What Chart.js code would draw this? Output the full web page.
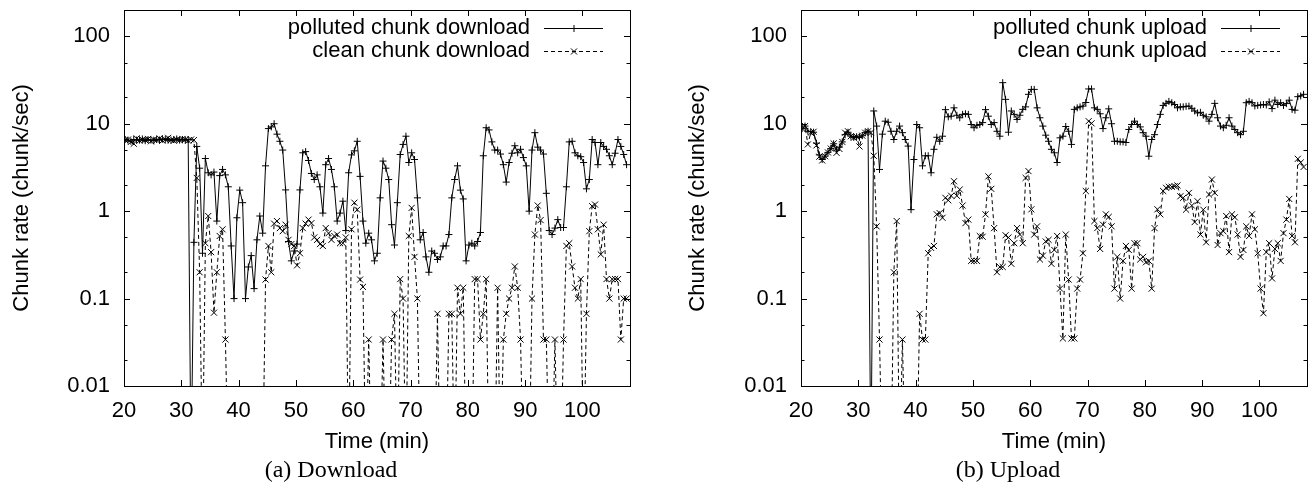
<!DOCTYPE html>
<html>
<head>
<meta charset="utf-8">
<script src="https://cdn.jsdelivr.net/npm/chart.js@4.4.1/dist/chart.umd.min.js"></script>
<style>
  html, body { margin: 0; padding: 0; background: #fff; }
  #wrap { position: relative; width: 1316px; height: 491px; overflow: hidden; }
  .panel { position: absolute; top: 0; width: 658px; height: 491px; }
  .cap { position: absolute; top: 457px; width: 300px; margin-left: -150px; text-align: center;
         font-family: "Liberation Serif", serif; font-size: 24px; line-height: 24px; color: #000; }
</style>
</head>
<body>
<div id="wrap">
  <div class="panel" style="left:0"><canvas id="dlChart" width="658" height="491"></canvas></div>
  <div class="panel" style="left:658px"><canvas id="ulChart" width="658" height="491"></canvas></div>
  <div class="cap" id="capA" style="left:331px"></div>
  <div class="cap" id="capB" style="left:1008px"></div>
</div>
<script>
// samples every 30 s, first one at 20.2 min
const T0 = 20.2, STEP = 0.5;

// chunk rates (chunk/sec), 0 = nothing received in that interval
const polDown = [
  6.6,6.5,6.3,6.6,6.5,6.5,6.7,6.4,6.6,6.5,
  6.4,6.6,6.5,6.7,6.6,6.5,6.5,6.6,6.7,6.5,
  6.6,6.5,6.6,0,0.44,5.5,3.1,0.33,4.0,2.75,
  2.6,2.8,0.77,2.55,3.0,2.6,1.9,0.4,0.1,0.84,
  1.74,1.25,0.1,0.23,0.31,0.13,0.47,0.88,0.56,3.3,
  8.8,9.2,10,7.6,6.3,5.0,1.75,0.45,0.27,0.35,
  0.42,1.75,4.65,4.8,3.8,2.7,2.3,2.6,1.9,0.95,
  3.4,4.0,3.0,1.9,0.77,0.95,1.3,0.6,2.75,4.4,
  4.9,6.3,2.5,0.77,0.43,0.56,0.47,0.27,0.33,1.42,
  3.74,3.1,2.3,0.7,0.41,1.25,4.45,5.8,7.2,3.6,
  4.65,3.9,1.42,0.47,0.57,0.3,0.2,0.35,0.33,0.28,
  0.3,0.4,0.4,0.54,1.42,2.3,3.3,1.74,1.38,0.27,
  0.41,0.43,0.4,0.45,0.57,4.3,9.0,8.5,6.2,5.0,
  5.0,4.5,3.4,2.15,3.6,4.6,5.6,4.65,5.1,4.1,
  3.3,1.0,5.0,7.9,5.4,5.0,4.5,1.6,0.6,0.54,
  0.64,0.8,0.65,0.65,1.9,6.2,6.3,4.65,4.3,4.2,
  3.6,1.8,2.3,6.6,6.1,3.4,6.1,5.5,5.1,4.3,
  3.4,4.6,6.6,5.5,4.45,3.4
];
const cleanDown = [
  6.5,6.6,6.2,5.9,6.8,6.4,6.6,6.5,6.7,6.3,
  6.6,6.5,6.8,6.4,6.6,6.9,6.5,6.4,6.6,6.5,
  6.7,6.6,6.4,6.6,6.5,2.4,0.2,0,0.43,0.88,
  0.34,0.069,0.2,0.52,0.62,0.034,0,0,0,0,
  0,0,0,0,0,0,0,0,0,0.165,
  0.4,0.2,0.72,0.77,0.64,0.59,0.7,0.47,0.42,0.4,
  0.24,0.33,0.64,0.72,0.8,0.73,0.5,0.47,0.42,0.4,
  0.64,0.56,0.47,0.52,0.54,0.43,0.43,0.5,0,0.62,
  1.25,1.04,0.165,0.136,0,0.034,0,0,0,0,
  0.034,0,0,0.034,0.067,0,0.167,0.1,0,0.52,
  1.09,0.3,0.1,0,0,0,0,0,0,0.067,
  0,0,0,0.067,0.067,0,0.133,0.067,0.133,0,
  0,0,0.167,0.167,0.034,0.067,0.167,0,0,0,
  0.133,0,0.034,0.067,0.1,0.133,0.233,0.133,0.034,0,
  0,0,0.1,0.54,1.16,0.79,0.034,0.034,0,0,
  0.034,0,0,0.034,0.4,0.43,0.233,0.133,0.1,0.167,
  0,0.067,0.59,1.14,1.19,0.62,0.32,0.7,0.167,0.1,
  0.167,0.167,0.167,0.034,0.1,0.1
];
const polUp = [
  8.8,9.4,8.2,8.1,8.0,6.0,4.4,3.9,4.25,4.7,
  5.2,5.9,5.0,5.4,6.2,7.5,8.0,7.2,7.0,7.1,
  7.0,7.3,7.9,8.2,0,14,9.4,3.0,7.6,10.7,
  10.4,8.2,6.6,8.2,9.4,7.9,6.6,5.55,1.04,3.9,
  9.8,9.0,3.3,4.3,4.3,2.75,5.1,7.0,6.3,7.2,
  14.5,12,12.2,15.2,12.5,11.7,12.8,13,12.8,9.8,
  9.0,9.6,9.8,10.3,14.5,12.2,9.8,10.3,8.2,7.2,
  29.5,19,8.0,14,12.8,11.2,12.5,14.6,15.6,21.7,
  24.7,24.7,15.2,11.7,9.4,7.4,6.3,5.1,4.65,3.6,
  6.9,7.2,9.3,8.2,5.8,14.6,15.2,15.6,15.9,17.5,
  25,25,15.2,14.6,13,8.8,11.7,14.8,10,6.3,
  6.3,6.2,6.2,6.1,8.6,9.8,10.7,9.8,9.2,7.9,
  7.2,4.25,6.6,7.5,9.8,12.8,16.2,17.1,18,17.4,
  16.6,15.2,15.6,15.6,15.8,15.9,15,14,13.3,13.5,
  12.5,12,10.7,12.8,17.1,11.7,9.4,9.0,9.6,11.7,
  9.4,8.6,7.9,7.5,8.2,17.4,18,17.4,16,16.2,
  16.4,16.6,16.4,17.8,14.9,18.6,16.6,17.4,16.2,17,
  18.6,14.6,14.3,20.4,20.8,21.7
];
const cleanUp = [
  8.8,9.4,5.8,7.9,8.1,5.65,4.2,3.8,4.25,4.7,
  5.2,5.95,4.65,5.15,6.2,7.9,8.2,7.2,6.9,7.1,
  5.5,7.3,7.9,8.2,7.9,4.3,0.67,0.034,0,0,
  0,0,0.2,0.77,0,0.034,0,0,0,0,
  0,0.067,0.034,0.034,0.33,0.38,0.4,0.92,0.95,0.84,
  1.42,1.33,1.5,2.2,1.5,1.77,1.16,0.73,0.8,0.27,
  0.27,0.27,0.52,0.51,0.92,2.5,1.8,0.64,0.2,0.23,
  0.23,0.53,0.5,0.25,0.43,0.64,0.54,0.43,2.4,2.87,
  1.05,0.54,0.67,0.28,0.31,0.45,0.47,0.25,0.36,0.52,
  0.13,0.035,0.54,0.165,0.035,0.035,0.13,0.165,0.33,1.7,
  10.7,10.1,0.77,0.64,0.37,0.7,0.92,0.86,0.67,0.13,
  0.3,0.1,0.27,0.4,0.36,0.13,0.43,0.43,0.28,0.3,
  0.26,0.27,0.13,0.64,1.05,0.92,1.7,1.85,1.9,1.9,
  1.93,1.97,1.48,1.42,1.04,1.62,1.16,0.75,1.3,0.54,
  1.04,0.44,1.55,2.3,1.62,0.41,0.56,0.59,0.88,0.34,
  0.92,0.85,0.54,0.3,0.36,0.67,0.52,0.92,0.62,0.33,
  0.13,0.068,0.34,0.43,0.17,0.37,0.43,0.27,0.56,0.8,
  1.38,0.52,0.44,3.97,3.6,3.2
];

const xTickValues = [20, 30, 40, 50, 60, 70, 80, 90, 100];
const xTickLabels = ['20', '30', '40', '50', '60', '70', '80', '90', '100'];
const yTickValues = [0.01, 0.1, 1, 10, 100];
const yTickLabels = ['0.01', '0.1', '1', '10', '100'];
const yMinorValues = [0.02, 0.05, 0.2, 0.5, 2, 5, 20, 50];

const sampleTimes = polDown.map((_, i) => T0 + i * STEP);
const ZERO_FLOOR = 1e-3;   // zero rates fall off the bottom of the log axis

document.getElementById('capA').textContent = '(a) Download';
document.getElementById('capB').textContent = '(b) Upload';

const SANS = "'Liberation Sans', Arial, sans-serif";

function toPoints(values) {
  return values.map((v, i) => ({ x: sampleTimes[i], y: v === 0 ? ZERO_FLOOR : v }));
}

function series(label, values, clean) {
  return {
    label,
    data: toPoints(values),
    borderColor: '#000',
    borderWidth: 1,
    borderDash: clean ? [4, 3] : [],
    tension: 0,
    fill: false,
    pointStyle: clean ? 'crossRot' : 'cross',
    pointRadius: clean ? 4.3 : 3.5,
    pointHoverRadius: clean ? 4.3 : 3.5,
    pointBorderColor: '#000',
    pointBackgroundColor: '#000',
    pointBorderWidth: 1
  };
}

// gnuplot-like box, inward ticks on all sides and the key
const framePlugin = {
  id: 'frame',
  afterDatasetsDraw(chart) {
    const { ctx, chartArea: a, scales: { x, y } } = chart;
    ctx.save();
    ctx.strokeStyle = '#000';
    ctx.lineWidth = 1;
    ctx.setLineDash([]);
    ctx.beginPath();
    xTickValues.forEach(v => {
      const px = Math.round(x.getPixelForValue(v)) + 0.5;
      ctx.moveTo(px, a.bottom); ctx.lineTo(px, a.bottom - 6);
      ctx.moveTo(px, a.top);    ctx.lineTo(px, a.top + 6);
    });
    const yTick = (v, len) => {
      const py = Math.round(y.getPixelForValue(v)) + 0.5;
      ctx.moveTo(a.left, py);  ctx.lineTo(a.left + len, py);
      ctx.moveTo(a.right, py); ctx.lineTo(a.right - len, py);
    };
    yTickValues.forEach(v => yTick(v, 6));
    yMinorValues.forEach(v => yTick(v, 3.5));
    ctx.stroke();
    ctx.strokeRect(Math.round(a.left) + 0.5, Math.round(a.top) + 0.5,
                   Math.round(a.right - a.left), Math.round(a.bottom - a.top));

    // key
    ctx.font = '22px ' + SANS;
    ctx.fillStyle = '#000';
    ctx.textAlign = 'right';
    ctx.textBaseline = 'middle';
    chart.data.datasets.forEach((ds, k) => {
      const ky = a.top + 18 + k * 22.5;
      ctx.fillText(ds.label, a.right - 100, ky);
      ctx.save();
      ctx.setLineDash(ds.borderDash);
      ctx.beginPath();
      ctx.moveTo(a.right - 86, Math.round(ky) + 0.5);
      ctx.lineTo(a.right - 27, Math.round(ky) + 0.5);
      ctx.stroke();
      ctx.restore();
      Chart.helpers.drawPoint(ctx, { pointStyle: ds.pointStyle, radius: ds.pointRadius, borderWidth: 1, rotation: 0 },
                              a.right - 56, Math.round(ky) + 0.5);
    });
    ctx.restore();
  }
};

function buildChart(canvasId, datasets, padLeft, padRight, yWidth) {
  return new Chart(document.getElementById(canvasId), {
    type: 'line',
    data: { datasets },
    options: {
      responsive: false,
      animation: false,
      events: [],
      layout: { padding: { left: padLeft, right: padRight, top: 10, bottom: 35 } },
      plugins: { legend: { display: false }, tooltip: { enabled: false } },
      scales: {
        x: {
          type: 'linear', min: 20, max: 108.3,
          afterBuildTicks: s => { s.ticks = xTickValues.map(v => ({ value: v })); },
          afterFit: s => { s.height = 70; s.paddingLeft = 0; s.paddingRight = 0; },
          grid: { display: false, drawTicks: false },
          border: { display: false },
          ticks: { color: '#000', font: { family: SANS, size: 22 }, padding: 12, maxRotation: 0, autoSkip: false,
                   callback: (v, i) => xTickLabels[i] },
          title: { display: true, text: 'Time (min)', color: '#000', font: { family: SANS, size: 22 },
                   padding: { top: 0, bottom: 1 } }
        },
        y: {
          type: 'logarithmic', min: 0.01, max: 200,
          afterBuildTicks: s => { s.ticks = yTickValues.map(v => ({ value: v })); },
          afterFit: s => { s.width = yWidth; s.paddingTop = 0; s.paddingBottom = 0; },
          grid: { display: false, drawTicks: false },
          border: { display: false },
          ticks: { color: '#000', font: { family: SANS, size: 22 }, padding: 14, autoSkip: false,
                   callback: (v, i) => yTickLabels[i] },
          title: { display: true, text: 'Chunk rate (chunk/sec)', color: '#000', font: { family: SANS, size: 22 },
                   padding: { top: 9, bottom: 0 } }
        }
      }
    },
    plugins: [framePlugin]
  });
}

buildChart('dlChart', [
  series('polluted chunk download', polDown, false),
  series('clean chunk download', cleanDown, true)
], 0, 28, 124);

buildChart('ulChart', [
  series('polluted chunk upload', polUp, false),
  series('clean chunk upload', cleanUp, true)
], 18, 9, 125);
</script>
</body>
</html>
